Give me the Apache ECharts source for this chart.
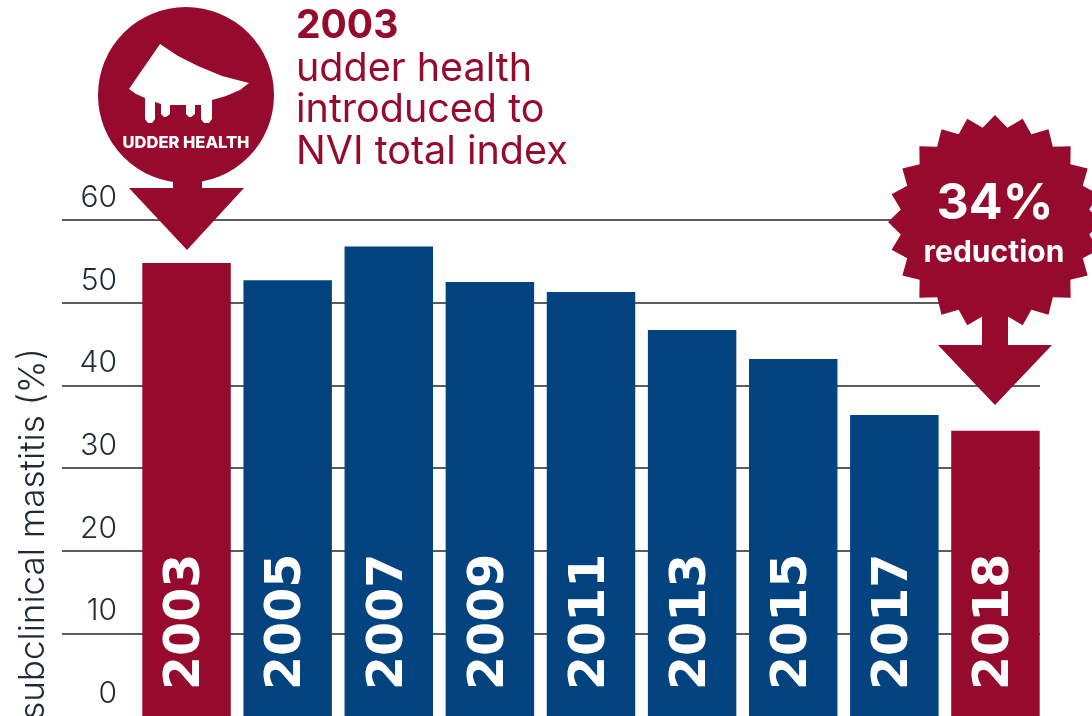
<!DOCTYPE html>
<html><head><meta charset="utf-8">
<style>html,body{margin:0;padding:0;background:#fff;overflow:hidden}#c{width:1092px;height:716px}</style>
<script src="https://cdn.jsdelivr.net/npm/echarts@6/dist/echarts.min.js"></script>
</head><body><div id="c"></div>
<script>
const years = ['2003','2005','2007','2009','2011','2013','2015','2017','2018'];
const mastitis = [54.8,52.7,56.8,52.5,51.3,46.7,43.2,36.4,34.5];
const highlighted = ['2003','2018'];
const RED = '#960b2d', BLUE = '#03437f', INK = '#1f2a36';
const FONT = 'Inter';
const chart = echarts.init(document.getElementById('c'), null, {renderer:'canvas'});

function star(cx, cy, rOut, rIn, n){
  const pts = [];
  for(let i=0;i<n*2;i++){
    const r = i%2 ? rIn : rOut, a = -Math.PI/2 + i*Math.PI/n;
    pts.push([cx+r*Math.cos(a), cy+r*Math.sin(a)]);
  }
  return pts;
}
const txt = (x,y,text,size,weight,fill,align) => ({type:'text',x,y,z:20,style:{text,fontFamily:FONT,fontSize:size,fontWeight:weight,fill,align:align||'left',verticalAlign:'middle'}});
const udder = [[160,44],[178,56],[198,66],[222,76],[249,83],[240,90],[226,96],[212,100],[212,119],[209,123],[204,123],[201,119],[201,105],[195,105],[195,114],[191,117],[189,117],[186,114],[186,105],[170,105],[170,114],[166,117],[164,117],[161,114],[161,104],[155,102],[155,119],[152,123],[148,123],[145,119],[145,98],[136,94],[129,89]];

chart.setOption({
  animation:false,
  backgroundColor:'#fff',
  grid:[
    {left:62,top:220,width:978,height:496},
    {left:136,top:220,width:910,height:496}
  ],
  xAxis:[
    {gridIndex:0,type:'category',data:years,show:false},
    {gridIndex:1,type:'category',data:years,show:false}
  ],
  yAxis:[
    {gridIndex:0,type:'value',min:0,max:60,interval:10,
      axisLine:{show:false},axisTick:{show:false},
      splitLine:{show:true,showMinLine:false,lineStyle:{color:'#262626',width:1.6}},
      axisLabel:{margin:-55,align:'right',verticalAlign:'bottom',padding:[0,0,7,0],lineHeight:30,
        color:INK,fontFamily:FONT,fontWeight:300,fontSize:30,showMinLabel:true,showMaxLabel:true}},
    {gridIndex:1,type:'value',min:0,max:60,interval:10,show:false}
  ],
  series:[{
    type:'bar',xAxisIndex:1,yAxisIndex:1,z:5,barCategoryGap:'12.5%',
    data:mastitis.map((v,i)=>({value:v,itemStyle:{color:highlighted.includes(years[i])?RED:BLUE}})),
    label:{show:true,position:'insideBottom',rotate:90,distance:26,formatter:'{b}',align:'left',verticalAlign:'middle',
      color:'#fff',fontFamily:'DejaVu Sans',fontWeight:700,fontSize:49}
  }],
  graphic:[
    {type:'circle',z:10,shape:{cx:186,cy:95,r:88},style:{fill:RED}},
    {type:'polygon',z:10,shape:{points:[[173,170],[202,170],[202,188],[244,188],[187,250],[129,188],[173,188]]},style:{fill:RED}},
    {type:'polygon',z:11,shape:{points:udder},style:{fill:'#fff'}},
    txt(186,143,'UDDER HEALTH',16.5,800,'#fff','center'),
    {type:'polygon',z:10,shape:{points:star(995,222,107,95,24)},style:{fill:RED}},
    {type:'polygon',z:10,shape:{points:[[982,300],[1008,300],[1008,345],[1052,345],[995,405],[938,345],[982,345]]},style:{fill:RED}},
    txt(995,204,'34%',50,700,'#fff','center'),
    txt(994,253,'reduction',30,700,'#fff','center'),
    txt(296,26,'2003',39,700,RED),
    txt(296,69,'udder health',39.5,400,RED),
    txt(296,110,'introduced to',39.5,400,RED),
    txt(296,152,'NVI total index',39.5,400,RED),
    {type:'text',z:20,x:33,y:534,rotation:Math.PI/2,style:{text:'subclinical mastitis (%)',fontFamily:FONT,fontSize:35,fontWeight:300,fill:INK,align:'center',verticalAlign:'middle'}}
  ]
});
</script></body></html>
